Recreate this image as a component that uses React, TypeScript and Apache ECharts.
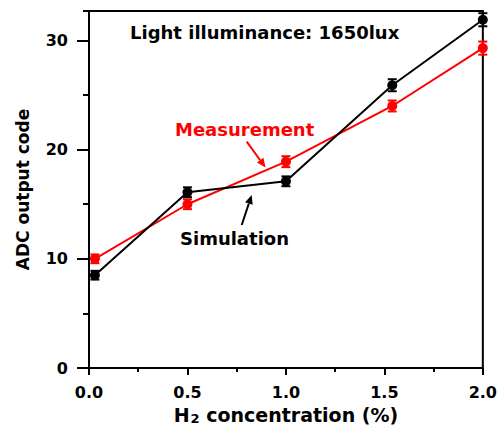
import React, { useEffect, useRef } from "react";
import * as echarts from "echarts";

const concentration = [0.03, 0.5, 1.0, 1.54, 2.0];
const measurement = [10.0, 15.0, 18.9, 24.0, 29.3];
const measurementErr = [0.4, 0.45, 0.5, 0.5, 0.6];
const simulation = [8.5, 16.1, 17.1, 25.9, 31.9];
const simulationErr = [0.4, 0.45, 0.45, 0.55, 0.6];
const yMajorTicks = [0, 10, 20, 30];
const yMinorTicks = [5, 15, 25];
const Y_MAX = 32.7;

const FONT = "DejaVu Sans";

function arrow(x1: number, y1: number, x2: number, y2: number, color: string) {
  const dx = x2 - x1;
  const dy = y2 - y1;
  const len = Math.sqrt(dx * dx + dy * dy);
  const ux = dx / len;
  const uy = dy / len;
  const hl = 9;
  const hw = 4;
  const bx = x2 - ux * hl;
  const by = y2 - uy * hl;
  return [
    {
      type: "line",
      shape: { x1, y1, x2: bx, y2: by },
      style: { stroke: color, lineWidth: 2 },
      z: 100,
    },
    {
      type: "polygon",
      shape: {
        points: [
          [x2, y2],
          [bx - uy * hw, by + ux * hw],
          [bx + uy * hw, by - ux * hw],
        ],
      },
      style: { fill: color },
      z: 100,
    },
  ];
}

function errorSeries(values: number[], errs: number[], color: string) {
  return {
    type: "custom",
    z: 5,
    renderItem: (_params: any, api: any) => {
      const x = api.value(0);
      const lo = api.coord([x, api.value(1)]);
      const hi = api.coord([x, api.value(2)]);
      const w = 4.5;
      const st = { stroke: color, lineWidth: 2 };
      return {
        type: "group",
        children: [
          { type: "line", shape: { x1: lo[0], y1: lo[1], x2: hi[0], y2: hi[1] }, style: st },
          { type: "line", shape: { x1: lo[0] - w, y1: lo[1], x2: lo[0] + w, y2: lo[1] }, style: st },
          { type: "line", shape: { x1: hi[0] - w, y1: hi[1], x2: hi[0] + w, y2: hi[1] }, style: st },
        ],
      };
    },
    encode: { x: 0, y: [1, 2] },
    data: values.map((v, i) => [concentration[i], v - errs[i], v + errs[i]]),
  };
}

export default function App() {
  const ref = useRef<HTMLDivElement>(null);
  useEffect(() => {
    if (!ref.current) return;
    const chart = echarts.init(ref.current, undefined, { renderer: "svg" });
    const labelStyle = { fontFamily: FONT, fontWeight: "bold", fontSize: 16, color: "#000" };
    chart.setOption({
      animation: false,
      backgroundColor: "#fff",
      grid: {
        left: 89,
        right: 15,
        top: 11,
        bottom: 61,
        show: true,
        borderColor: "#000",
        borderWidth: 2,
      },
      xAxis: {
        type: "value",
        min: 0,
        max: 2,
        interval: 0.5,
        axisLine: { show: true, lineStyle: { color: "#000", width: 2 } },
        axisTick: { show: true, length: 7, lineStyle: { color: "#000", width: 2 } },
        minorTick: { show: true, splitNumber: 2, length: 4, lineStyle: { color: "#000", width: 2 } },
        splitLine: { show: false },
        axisLabel: { ...labelStyle, margin: 16, formatter: (v: number) => v.toFixed(1) },
        name: "{a|H}{s|2}{a| concentration (%)}",
        nameLocation: "middle",
        nameGap: 36,
        nameTextStyle: {
          rich: {
            a: { fontFamily: FONT, fontWeight: "bold", fontSize: 19, color: "#000" },
            s: { fontFamily: FONT, fontWeight: "bold", fontSize: 13, color: "#000", verticalAlign: "bottom", padding: [8, 0, 0, 1] },
          },
        },
      },
      yAxis: [
        {
          type: "value",
          min: 0,
          max: Y_MAX,
          interval: 10,
          position: "left",
          axisLine: { show: true, lineStyle: { color: "#000", width: 2 } },
          axisTick: { show: true, length: 12, customValues: yMajorTicks, lineStyle: { color: "#000", width: 2 } },
          splitLine: { show: false },
          axisLabel: { ...labelStyle, margin: 21, customValues: yMajorTicks },
          name: "ADC output code",
          nameLocation: "middle",
          nameGap: 58,
          nameTextStyle: { fontFamily: FONT, fontWeight: "bold", fontSize: 17, color: "#000" },
        },
        {
          type: "value",
          min: 0,
          max: Y_MAX,
          position: "left",
          axisLine: { show: false },
          axisTick: { show: true, length: 6, customValues: [...yMinorTicks, Y_MAX], lineStyle: { color: "#000", width: 2 } },
          splitLine: { show: false },
          axisLabel: { show: false },
        },
      ],
      series: [
        errorSeries(measurement, measurementErr, "#ff0000"),
        {
          name: "Measurement",
          type: "line",
          z: 3,
          data: concentration.map((x, i) => [x, measurement[i]]),
          symbol: "circle",
          symbolSize: 10,
          lineStyle: { color: "#ff0000", width: 2 },
          itemStyle: { color: "#ff0000" },
        },
        errorSeries(simulation, simulationErr, "#000000"),
        {
          name: "Simulation",
          type: "line",
          z: 4,
          data: concentration.map((x, i) => [x, simulation[i]]),
          symbol: "circle",
          symbolSize: 10,
          lineStyle: { color: "#000", width: 2 },
          itemStyle: { color: "#000" },
        },
      ],
      graphic: [
        {
          type: "text",
          left: 130,
          top: 23,
          z: 100,
          style: { text: "Light illuminance: 1650lux", fontFamily: FONT, fontWeight: "bold", fontSize: 18, fill: "#000" },
        },
        {
          type: "text",
          left: 175,
          top: 120,
          z: 100,
          style: { text: "Measurement", fontFamily: FONT, fontWeight: "bold", fontSize: 18, fill: "#ff0000" },
        },
        {
          type: "text",
          left: 180,
          top: 229,
          z: 100,
          style: { text: "Simulation", fontFamily: FONT, fontWeight: "bold", fontSize: 18, fill: "#000" },
        },
        ...arrow(246.7, 141.7, 265.5, 167.5, "#ff0000"),
        ...arrow(241.7, 225, 251.7, 195, "#000000"),
      ],
    });
    return () => chart.dispose();
  }, []);
  return <div ref={ref} style={{ position: "fixed", left: 0, top: 0, width: 500, height: 430 }} />;
}
